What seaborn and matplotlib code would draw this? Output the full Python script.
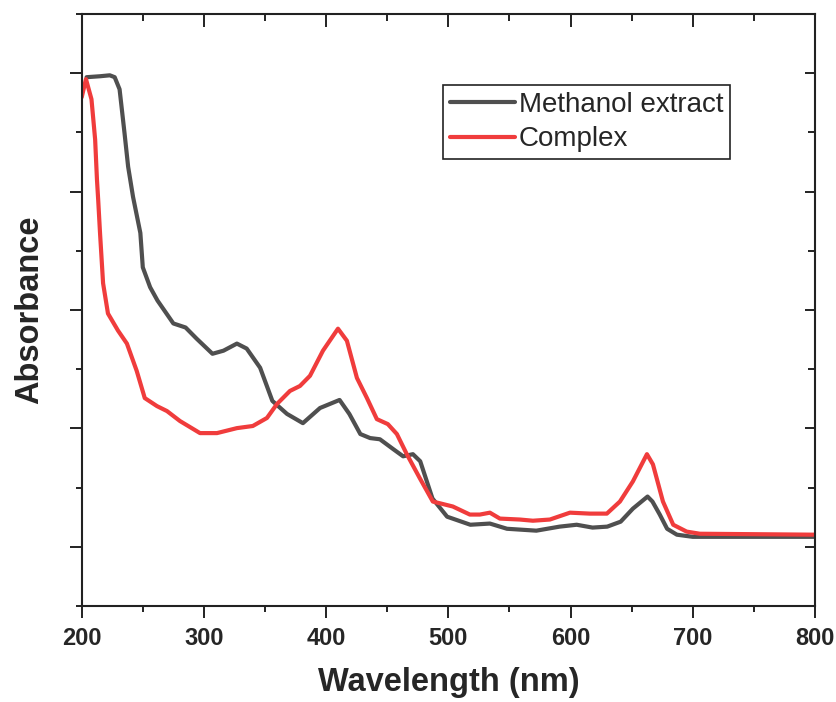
import matplotlib
matplotlib.use("Agg")
import matplotlib.pyplot as plt
import seaborn as sns
from matplotlib.ticker import MultipleLocator, NullFormatter

# Methanol extract spectrum (arbitrary absorbance units)
methanol_nm = [204, 215, 223, 227, 231, 235, 238, 242, 248, 250, 256, 262,
               275, 285, 294, 307, 316, 327, 335, 346, 356, 368, 381, 395,
               411, 419, 428, 436, 444, 455, 463, 471, 477, 487, 499, 518,
               534, 548, 572, 591, 605, 618, 630, 641, 651, 663, 667, 673,
               679, 687, 700, 800]
methanol_abs = [2.483, 2.487, 2.491, 2.483, 2.432, 2.249, 2.105, 1.978, 1.825,
                1.680, 1.596, 1.540, 1.443, 1.426, 1.379, 1.315, 1.328, 1.358,
                1.337, 1.256, 1.116, 1.061, 1.022, 1.086, 1.120, 1.061, 0.976,
                0.959, 0.954, 0.912, 0.882, 0.891, 0.861, 0.704, 0.627, 0.593,
                0.598, 0.576, 0.568, 0.585, 0.593, 0.581, 0.585, 0.606, 0.661,
                0.712, 0.691, 0.636, 0.576, 0.551, 0.542, 0.542]

# Complex spectrum
complex_nm = [200, 203.5, 208, 211, 212.5, 213.5, 215, 217.5, 221.5, 229.7,
              237, 245, 251.6, 261.6, 269.8, 280.4, 296.8, 310.7, 327, 340,
              351.6, 359.8, 370.4, 378.6, 386.8, 397.4, 409.7, 417, 425.2,
              433.4, 441.5, 450.5, 457.9, 466, 476.7, 487.3, 503.7, 517.6,
              525.8, 534, 542.2, 558.5, 569.2, 583.1, 599.5, 615.8, 629.7,
              640.4, 651, 662.5, 667.4, 675.6, 684, 695, 705.8, 800]
complex_abs = [2.398, 2.475, 2.390, 2.220, 2.050, 1.965, 1.825, 1.613, 1.485,
               1.413, 1.358, 1.243, 1.128, 1.094, 1.073, 1.031, 0.980, 0.980,
               1.001, 1.010, 1.044, 1.103, 1.158, 1.179, 1.222, 1.328, 1.421,
               1.370, 1.213, 1.128, 1.039, 1.018, 0.976, 0.891, 0.789, 0.691,
               0.670, 0.636, 0.636, 0.644, 0.619, 0.615, 0.610, 0.615, 0.644,
               0.640, 0.640, 0.691, 0.776, 0.891, 0.848, 0.691, 0.593, 0.564,
               0.555, 0.551]

series_labels = ["Methanol extract", "Complex"]
series_colors = ["#4f4f4f", "#f03c3c"]

sns.set_theme(style="ticks")
plt.rcParams["font.family"] = ["Liberation Sans", "DejaVu Sans"]
plt.rcParams["xtick.top"] = True
plt.rcParams["ytick.right"] = True

rect = [0.0976, 0.1368, 0.8761, 0.8433]
fig = plt.figure(figsize=(8.37, 7.02), dpi=100)
ax = fig.add_axes(rect, label="main")

sns.lineplot(x=methanol_nm, y=methanol_abs, ax=ax, color=series_colors[0],
             linewidth=3.0, label=series_labels[0], sort=False)
sns.lineplot(x=complex_nm, y=complex_abs, ax=ax, color=series_colors[1],
             linewidth=3.0, label=series_labels[1], sort=False)

tick_col = "#222222"
ax.set_xlim(200, 800)
ax.set_ylim(0.25, 2.75)

# bottom / left ticks point outward
ax.xaxis.set_major_locator(MultipleLocator(100))
ax.xaxis.set_minor_locator(MultipleLocator(50))
ax.yaxis.set_major_locator(MultipleLocator(0.5))
ax.yaxis.set_minor_locator(MultipleLocator(0.25))
ax.yaxis.set_major_formatter(NullFormatter())
ax.tick_params(axis="both", which="major", direction="out", length=8.5,
               width=1.4, color=tick_col, top=False, right=False)
ax.tick_params(axis="both", which="minor", direction="out", length=4.5,
               width=1.4, color=tick_col, top=False, right=False)
ax.tick_params(axis="x", labelsize=17, pad=7)
for sp in ax.spines.values():
    sp.set_linewidth(1.5)
    sp.set_color(tick_col)

# separate overlay axes for the inward ticks on top and right
ov = fig.add_axes(rect, label="overlay", zorder=5)
ov.patch.set_visible(False)
ov.set_xlim(200, 800)
ov.set_ylim(0.25, 2.75)
ov.xaxis.set_major_locator(MultipleLocator(100))
ov.xaxis.set_minor_locator(MultipleLocator(50))
ov.yaxis.set_major_locator(MultipleLocator(0.5))
ov.yaxis.set_minor_locator(MultipleLocator(0.25))
ov.xaxis.set_ticks_position("top")
ov.yaxis.set_ticks_position("right")
ov.tick_params(axis="both", which="both", direction="in", width=1.4,
               color=tick_col, labeltop=False, labelright=False,
               labelbottom=False, labelleft=False)
ov.tick_params(axis="x", which="major", length=9)
ov.tick_params(axis="x", which="minor", length=5)
ov.tick_params(axis="y", which="major", length=7.5)
ov.tick_params(axis="y", which="minor", length=5)
for sp in ov.spines.values():
    sp.set_visible(False)

plt.setp(ax.get_xticklabels(), fontweight="bold")
ax.set_xlabel("Wavelength (nm)", fontsize=23.5, fontweight="bold", labelpad=12)
ax.set_ylabel("Absorbance", fontsize=23.5, fontweight="bold", labelpad=14.5)

leg = ax.legend(loc="upper left", bbox_to_anchor=(0.493, 0.880),
                borderaxespad=0, fontsize=20, frameon=True, fancybox=False,
                handlelength=2.35, handletextpad=0.12, labelspacing=0.3,
                borderpad=0.25)
leg.get_frame().set_edgecolor(tick_col)
leg.get_frame().set_linewidth(1.2)
leg.get_frame().set_alpha(1)

fig.canvas.draw()
# make sure the overlay ticks exist before saving
for t in ov.xaxis.get_major_ticks() + ov.yaxis.get_major_ticks():
    t.tick2line.set_visible(True)
for t in ov.xaxis.get_minor_ticks() + ov.yaxis.get_minor_ticks():
    t.tick2line.set_visible(True)

fig.savefig("out.png", dpi=100)
